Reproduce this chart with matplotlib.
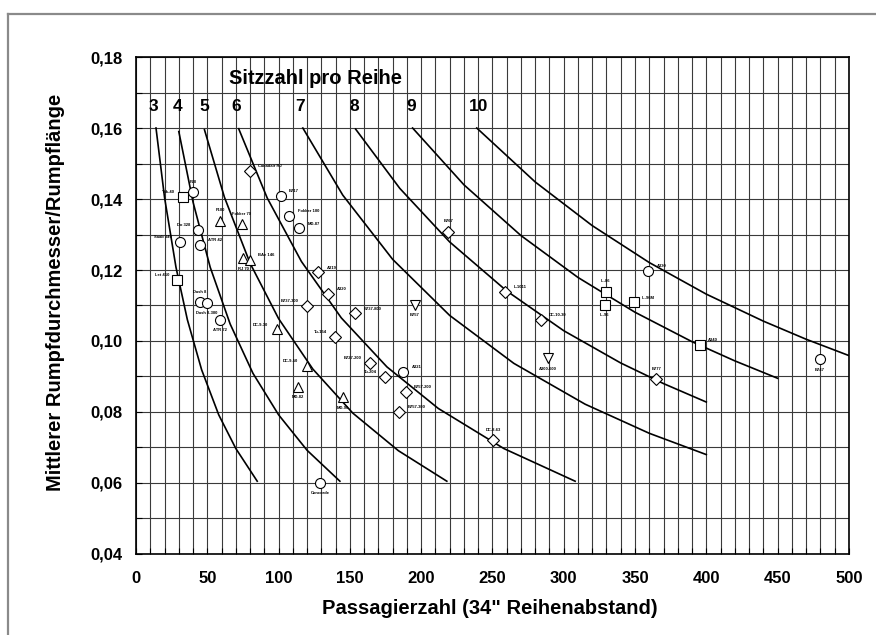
import matplotlib
matplotlib.use("Agg")
import matplotlib.pyplot as plt
from matplotlib.lines import Line2D
from matplotlib.ticker import FuncFormatter, MultipleLocator

plt.rcParams["font.family"] = ["Liberation Sans", "DejaVu Sans"]
plt.rcParams["font.weight"] = "bold"

# seats-per-row curves: passengers vs. mean fuselage diameter / length
row_seats = [3, 4, 5, 6, 7, 8, 9, 10]
curve_x = {
    3: [14, 20, 28, 36, 46, 58, 70, 85],
    4: [30, 40, 52, 66, 82, 100, 120, 143],
    5: [48, 62, 80, 100, 124, 152, 184, 218],
    6: [72, 92, 116, 144, 176, 212, 258, 308],
    7: [117, 145, 180, 220, 265, 315, 360, 400],
    8: [154, 185, 220, 260, 300, 340, 370, 400],
    9: [194, 230, 270, 310, 350, 390, 420, 450],
    10: [239, 280, 320, 360, 400, 440, 470, 500],
}
curve_y = {
    3: [0.160, 0.1404, 0.1208, 0.1060, 0.0919, 0.0792, 0.0697, 0.0605],
    4: [0.159, 0.1391, 0.1208, 0.1048, 0.0909, 0.0792, 0.0692, 0.0605],
    5: [0.1595, 0.1405, 0.1219, 0.1063, 0.0921, 0.0797, 0.0691, 0.0605],
    6: [0.1598, 0.1403, 0.1224, 0.1065, 0.0927, 0.0810, 0.0697, 0.0605],
    7: [0.160, 0.1411, 0.1230, 0.1072, 0.0937, 0.0822, 0.0740, 0.0680],
    8: [0.1597, 0.1430, 0.1279, 0.1141, 0.1029, 0.0938, 0.0880, 0.0828],
    9: [0.160, 0.1440, 0.1297, 0.1179, 0.1081, 0.0998, 0.0944, 0.0895],
    10: [0.160, 0.1448, 0.1325, 0.1221, 0.1132, 0.1056, 0.1005, 0.0959],
}
# where the row numbers sit above the curves
row_label_x = [12, 29, 48, 70, 115, 153, 193, 240]
row_label_y = 0.1660

# aircraft
ac_names = [
    "Yak-40", "F28", "F100", "Fokker 70", "Do 328", "Saab 340", "ATR 42",
    "RJ 70", "BAe 146", "Let 410", "Dash 8", "Dash 8-300", "ATR 72",
    "Canadair RJ", "B717", "Fokker 100", "MD-87", "A319", "A320",
    "B737-300", "B737-800", "B757", "DC-9-30", "Tu-154", "DC-9-50",
    "B727-200", "Tu-204", "A321", "B757-200", "MD-82", "MD-90", "B757-300",
    "B767", "L-1011", "DC-10-30", "A300-600", "DC-8-63", "A330", "IL-86",
    "IL-96", "IL-96M", "A340", "B777", "B747", "Concorde",
]
ac_pax = [
    33.2, 40.2, 58.9, 74.1, 43.6, 30.9, 44.9,
    75.3, 80.0, 29.0, 44.9, 49.6, 58.9,
    80.0, 101.4, 107.5, 114.5, 127.8, 134.9,
    119.7, 153.6, 195.7, 98.7, 139.5, 119.7,
    164.1, 174.6, 187.3, 189.3, 113.8, 145.4, 184.7,
    219.0, 258.8, 284.0, 289.2, 250.6, 359.3, 329.6,
    328.9, 349.2, 395.5, 364.9, 479.7, 129.0,
]
ac_ratio = [
    0.1406, 0.1420, 0.1339, 0.1330, 0.1313, 0.1280, 0.1270,
    0.1233, 0.1228, 0.1172, 0.1110, 0.1108, 0.1059,
    0.1480, 0.1408, 0.1352, 0.1317, 0.1193, 0.1132,
    0.1099, 0.1078, 0.1101, 0.1033, 0.1012, 0.0930,
    0.0939, 0.0898, 0.0913, 0.0857, 0.0871, 0.0841, 0.0801,
    0.1308, 0.1139, 0.1059, 0.0951, 0.0721, 0.1198, 0.1139,
    0.1101, 0.1109, 0.0989, 0.0892, 0.0948, 0.0600,
]
ac_marker = [
    "s", "o", "^", "^", "o", "o", "o",
    "^", "^", "s", "o", "o", "o",
    "D", "o", "o", "o", "D", "D",
    "D", "D", "v", "^", "D", "^",
    "D", "D", "o", "D", "^", "^", "D",
    "D", "D", "D", "v", "D", "o", "s",
    "s", "s", "s", "D", "o", "o",
]
# label side: r = right, l = left, a = above, b = below
ac_side = [
    "l", "a", "a", "a", "l", "l", "r",
    "b", "r", "l", "a", "b", "b",
    "r", "r", "r", "r", "r", "r",
    "l", "r", "b", "l", "l", "l",
    "l", "l", "r", "r", "b", "b", "r",
    "a", "r", "r", "b", "a", "r", "a",
    "b", "r", "r", "a", "b", "b",
]

fig = plt.figure(figsize=(8.76, 6.35), dpi=100)
ax = fig.add_axes([0.1553, 0.1276, 0.8137, 0.7826])

for n in row_seats:
    ax.plot(curve_x[n], curve_y[n], color="black", lw=1.2, zorder=3)
for n, lx in zip(row_seats, row_label_x):
    ax.text(lx, row_label_y, str(n), fontsize=12.5, fontweight="bold",
            ha="center", va="center", zorder=4)
ax.text(126, 0.1740, "Sitzzahl pro Reihe", fontsize=14.5, fontweight="bold",
        ha="center", va="center", zorder=4)

offsets = {"r": (6, 2, "left", "bottom"), "l": (-6, 2, "right", "bottom"),
           "a": (0, 6, "center", "bottom"), "b": (0, -6, "center", "top")}
for name, x, y, m, side in zip(ac_names, ac_pax, ac_ratio, ac_marker, ac_side):
    ms = 5.8 if m == "D" else 7.2
    ax.plot(x, y, marker=m, ms=ms, mfc="white", mec="black", mew=0.8,
            ls="none", zorder=5)
    dx, dy, ha, va = offsets[side]
    ax.annotate(name, (x, y), xytext=(dx, dy), textcoords="offset points",
                fontsize=3, ha=ha, va=va, zorder=6)

ax.set_xlim(0, 500)
ax.set_ylim(0.04, 0.18)
ax.xaxis.set_major_locator(MultipleLocator(50))
ax.xaxis.set_minor_locator(MultipleLocator(10))
ax.yaxis.set_major_locator(MultipleLocator(0.02))
ax.yaxis.set_minor_locator(MultipleLocator(0.01))
ax.yaxis.set_major_formatter(FuncFormatter(lambda v, p: f"{v:.2f}".replace(".", ",")))
ax.grid(which="both", color="#3a3a3a", lw=0.8)
ax.set_axisbelow(True)
ax.tick_params(which="both", direction="in", length=4, width=0.8, labelsize=12)
ax.tick_params(axis="x", pad=12)
ax.tick_params(axis="y", pad=10)
for lab in ax.get_xticklabels() + ax.get_yticklabels():
    lab.set_fontweight("bold")
for s in ax.spines.values():
    s.set_linewidth(1.2)

ax.set_xlabel("Passagierzahl (34\" Reihenabstand)", fontsize=14.5,
              fontweight="bold")
ax.set_ylabel("Mittlerer Rumpfdurchmesser/Rumpflänge", fontsize=14.5,
              fontweight="bold")
ax.xaxis.set_label_coords(0.497, -0.090)
ax.yaxis.set_label_coords(-0.099, 0.527)

# thin grey frame round the figure
fig.add_artist(Line2D([8 / 876, 8 / 876], [0, 1 - 14 / 635],
                      transform=fig.transFigure, color="#8a8a8a", lw=1.6))
fig.add_artist(Line2D([8 / 876, 1], [1 - 14 / 635, 1 - 14 / 635],
                      transform=fig.transFigure, color="#8a8a8a", lw=1.6))

fig.savefig("out.png", dpi=100)
